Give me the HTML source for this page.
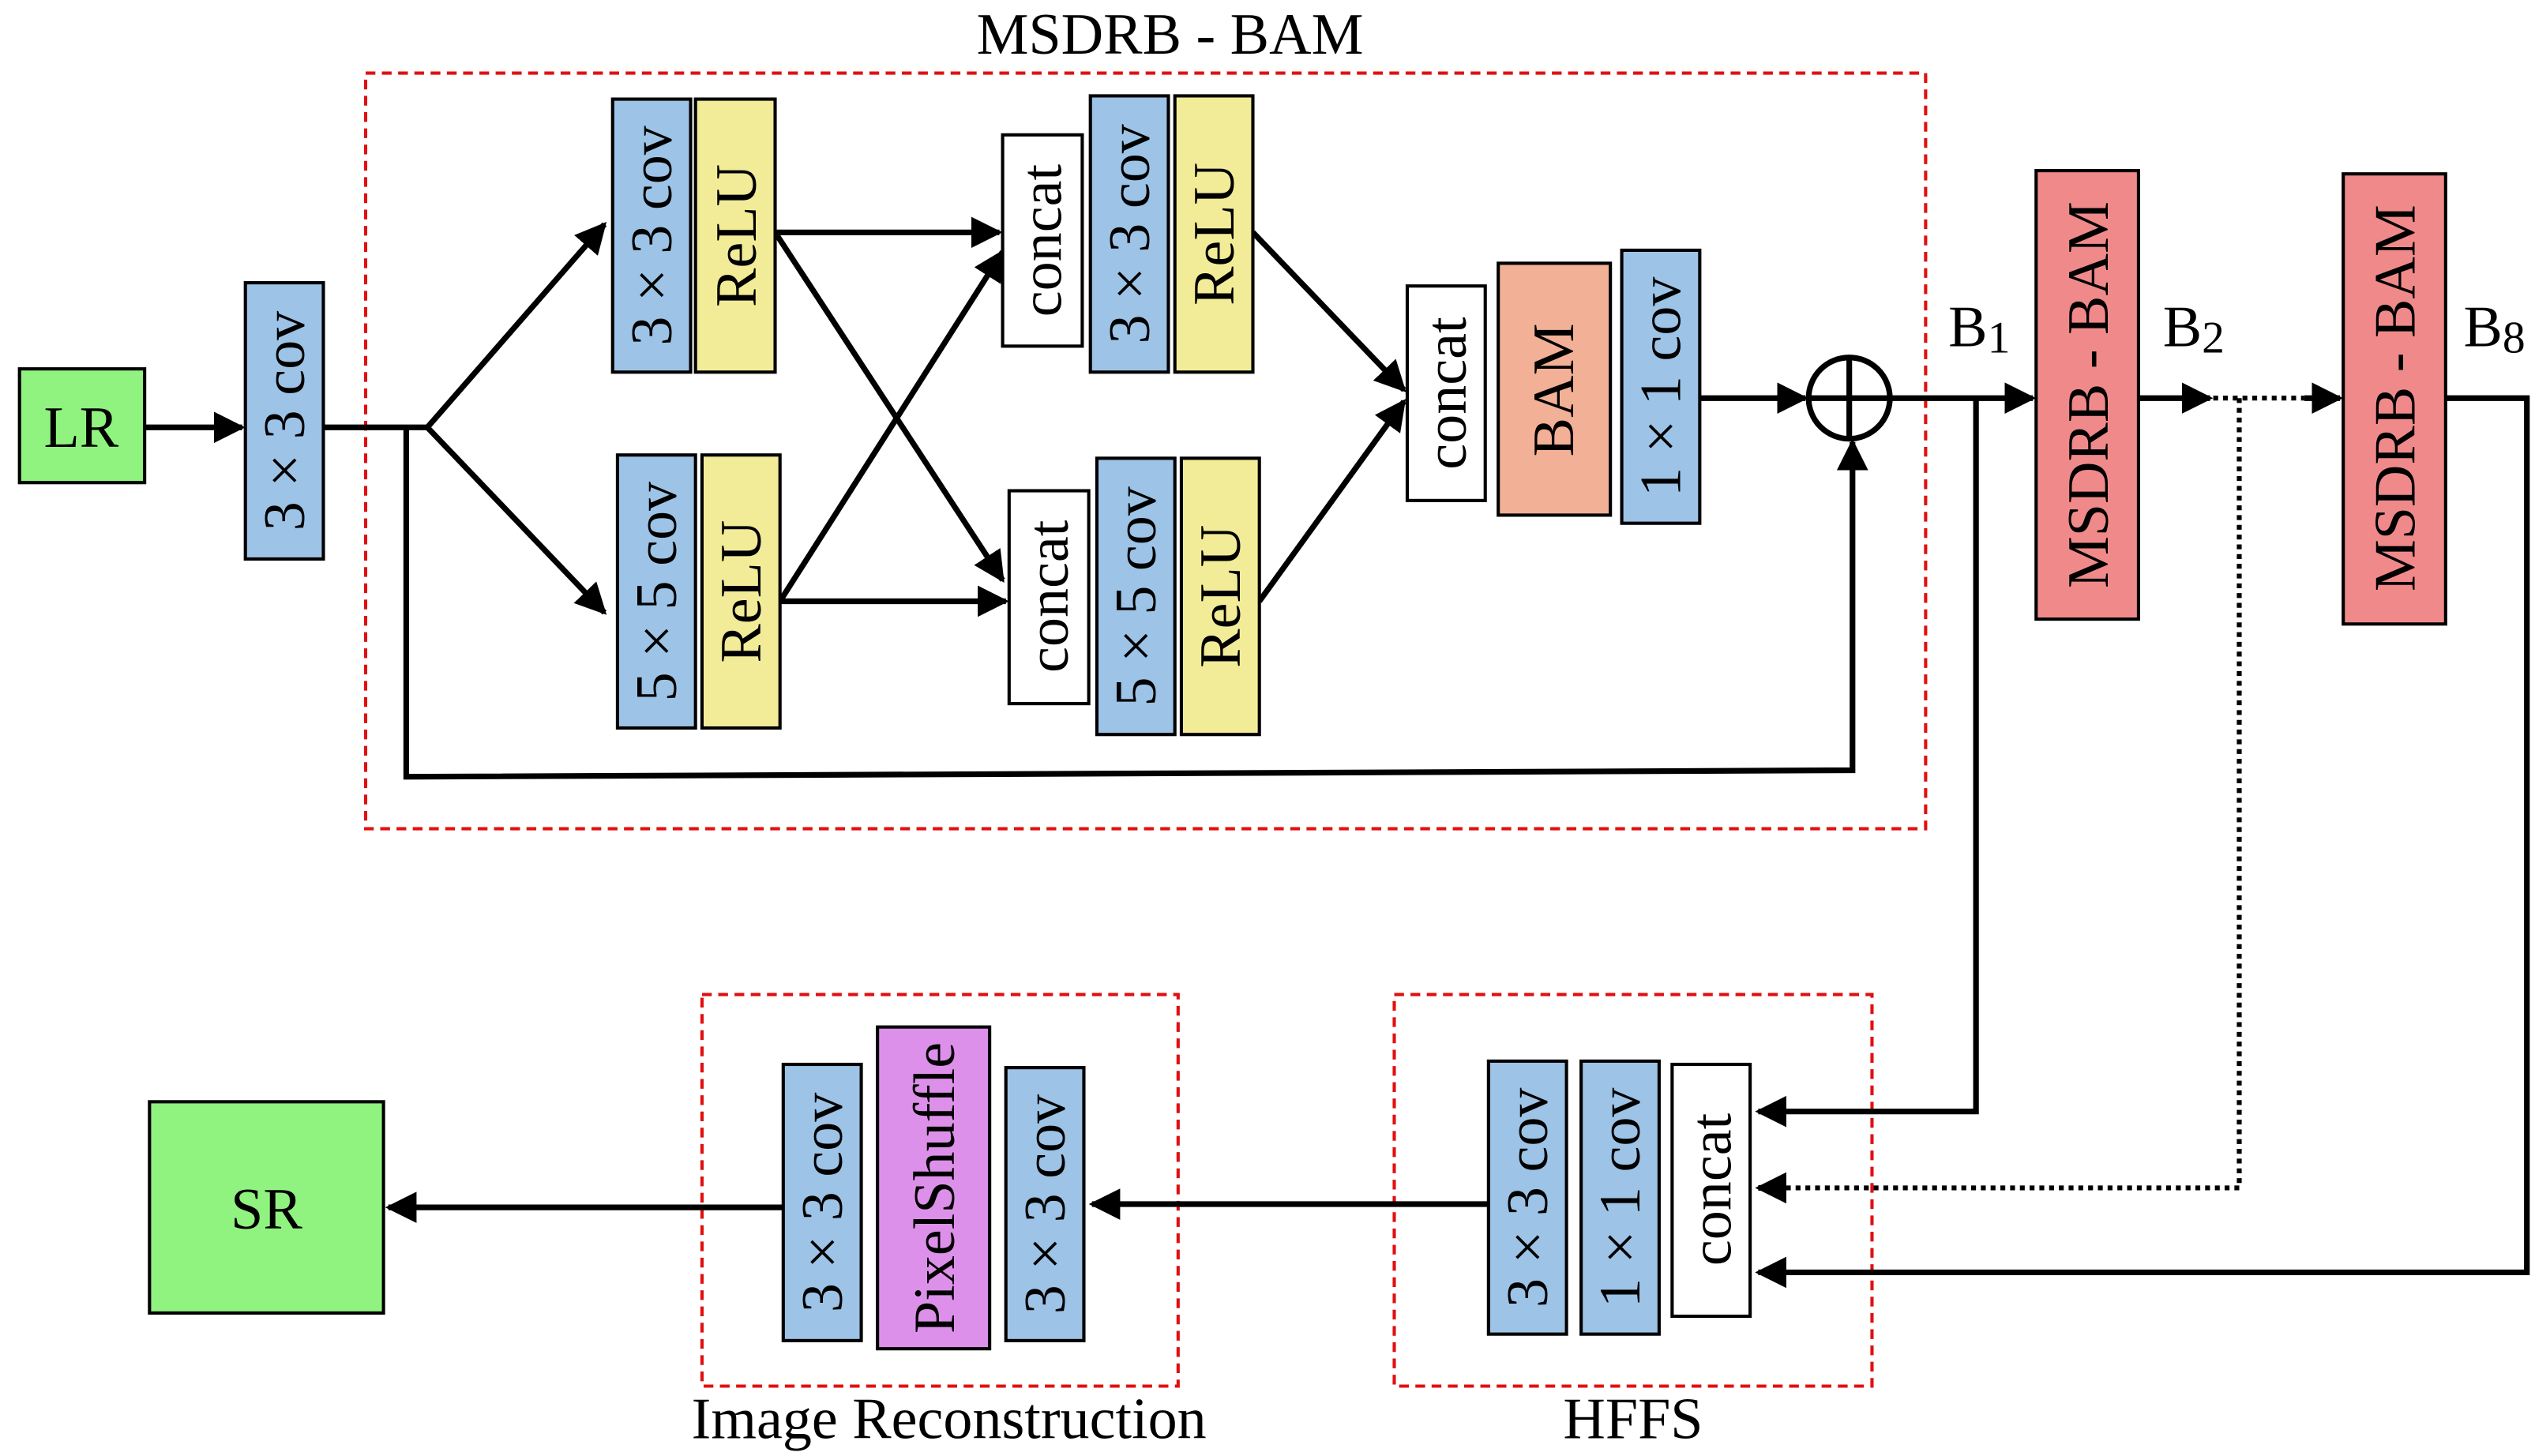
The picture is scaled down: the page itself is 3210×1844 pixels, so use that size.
<!DOCTYPE html>
<html><head><meta charset="utf-8"><style>html,body{margin:0;padding:0;background:#fff}svg{display:block}</style></head>
<body>
<svg width="3210" height="1844" viewBox="0 0 1560 896" preserveAspectRatio="none" xmlns="http://www.w3.org/2000/svg" font-family="'Liberation Serif', serif" font-size="36">
<defs>
<marker id="a" viewBox="0 0 10 10" refX="9" refY="5" markerWidth="5.5" markerHeight="5.5" orient="auto-start-reverse" markerUnits="strokeWidth"><path d="M0,0 L10,5 L0,10 z" fill="#000"/></marker>
</defs>
<g stroke="#e01010" stroke-width="2" stroke-dasharray="6,4" fill="none">
<rect x="225" y="45" width="960" height="465"/>
<rect x="858" y="612" width="294" height="241"/>
<rect x="432" y="612" width="293" height="241"/>
</g>
<text x="720" y="33" text-anchor="middle">MSDRB - BAM</text>
<text x="1005" y="885" text-anchor="middle">HFFS</text>
<text x="584" y="885" text-anchor="middle">Image Reconstruction</text>
<text x="1218" y="213" text-anchor="middle">B<tspan font-size="28" dy="4">1</tspan></text>
<text x="1350" y="213" text-anchor="middle">B<tspan font-size="28" dy="4">2</tspan></text>
<text x="1535" y="213" text-anchor="middle">B<tspan font-size="28" dy="4">8</tspan></text>

<g stroke="#000" stroke-width="3.5" fill="none">
<line x1="89" y1="263" x2="149" y2="263" marker-end="url(#a)"/>
<polyline points="199,263 263,263"/>
<line x1="263" y1="263" x2="372" y2="138" marker-end="url(#a)"/>
<line x1="263" y1="263" x2="372" y2="377" marker-end="url(#a)"/>
<polyline points="250,263 250,478 1140,474 1140,272" marker-end="url(#a)"/>
<line x1="477" y1="143" x2="615" y2="143" marker-end="url(#a)"/>
<line x1="477" y1="143" x2="617" y2="357" marker-end="url(#a)"/>
<line x1="480" y1="370" x2="617" y2="155" marker-end="url(#a)"/>
<line x1="480" y1="370" x2="619" y2="370" marker-end="url(#a)"/>
<line x1="771" y1="143" x2="864" y2="240" marker-end="url(#a)"/>
<line x1="775" y1="370" x2="864" y2="247" marker-end="url(#a)"/>
<line x1="1046" y1="245" x2="1111" y2="245" marker-end="url(#a)"/>
<circle cx="1138" cy="245" r="25"/>
<line x1="1113" y1="245" x2="1163" y2="245"/>
<line x1="1138" y1="220" x2="1138" y2="270"/>
<line x1="1163" y1="245" x2="1251" y2="245" marker-end="url(#a)"/>
<polyline points="1216,245 1216,684 1082,684" marker-end="url(#a)"/>
<line x1="1316" y1="245" x2="1360" y2="245" marker-end="url(#a)"/>
<line x1="1418" y1="245" x2="1440" y2="245" marker-end="url(#a)"/>
<polyline points="1505,245 1555,245 1555,783 1082,783" marker-end="url(#a)"/>
<line x1="916" y1="741" x2="672" y2="741" marker-end="url(#a)"/>
<line x1="482" y1="743" x2="239" y2="743" marker-end="url(#a)"/>
</g>
<g stroke="#000" stroke-width="3" fill="none" stroke-dasharray="3,3">
<line x1="1362" y1="245" x2="1418" y2="245"/>
<polyline points="1378,245 1378,731 1096,731"/>
</g>
<line x1="1096" y1="731" x2="1082" y2="731" stroke="#000" stroke-width="3.5" marker-end="url(#a)"/>

<g stroke="#000" stroke-width="2">
<rect x="12" y="227" width="77" height="70" fill="#90f27f"/>
<rect x="92" y="678" width="144" height="130" fill="#90f27f"/>
<rect x="151" y="174" width="48" height="170" fill="#9dc3e6"/>
<rect x="377" y="61" width="48" height="168" fill="#9dc3e6"/>
<rect x="428" y="61" width="49" height="168" fill="#f2ec98"/>
<rect x="380" y="280" width="48" height="168" fill="#9dc3e6"/>
<rect x="432" y="280" width="48" height="168" fill="#f2ec98"/>
<rect x="617" y="83" width="49" height="130" fill="#fff"/>
<rect x="671" y="59" width="48" height="170" fill="#9dc3e6"/>
<rect x="723" y="59" width="48" height="170" fill="#f2ec98"/>
<rect x="621" y="302" width="49" height="131" fill="#fff"/>
<rect x="675" y="282" width="48" height="170" fill="#9dc3e6"/>
<rect x="727" y="282" width="48" height="170" fill="#f2ec98"/>
<rect x="866" y="176" width="48" height="132" fill="#fff"/>
<rect x="922" y="162" width="69" height="155" fill="#f2b096"/>
<rect x="998" y="154" width="48" height="168" fill="#9dc3e6"/>
<rect x="1253" y="105" width="63" height="276" fill="#f08a8a"/>
<rect x="1442" y="107" width="63" height="277" fill="#f08a8a"/>
<rect x="916" y="653" width="48" height="168" fill="#9dc3e6"/>
<rect x="973" y="653" width="48" height="168" fill="#9dc3e6"/>
<rect x="1029" y="655" width="48" height="155" fill="#fff"/>
<rect x="482" y="655" width="48" height="170" fill="#9dc3e6"/>
<rect x="540" y="632" width="69" height="198" fill="#dd90ea"/>
<rect x="619" y="657" width="48" height="168" fill="#9dc3e6"/>
</g>
<text x="50" y="275" text-anchor="middle">LR</text>
<text x="164" y="756" text-anchor="middle">SR</text>
<g text-anchor="middle">
<text transform="translate(187,259) rotate(-90)">3 × 3 cov</text>
<text transform="translate(413,145) rotate(-90)">3 × 3 cov</text>
<text transform="translate(465,145) rotate(-90)">ReLU</text>
<text transform="translate(416,364) rotate(-90)">5 × 5 cov</text>
<text transform="translate(468,364) rotate(-90)">ReLU</text>
<text transform="translate(653,148) rotate(-90)">concat</text>
<text transform="translate(707,144) rotate(-90)">3 × 3 cov</text>
<text transform="translate(759,144) rotate(-90)">ReLU</text>
<text transform="translate(657,367) rotate(-90)">concat</text>
<text transform="translate(711,367) rotate(-90)">5 × 5 cov</text>
<text transform="translate(763,367) rotate(-90)">ReLU</text>
<text transform="translate(902,242) rotate(-90)">concat</text>
<text transform="translate(968,240) rotate(-90)">BAM</text>
<text transform="translate(1034,238) rotate(-90)">1 × 1 cov</text>
<text transform="translate(1297,243) rotate(-90)">MSDRB - BAM</text>
<text transform="translate(1486,245) rotate(-90)">MSDRB - BAM</text>
<text transform="translate(952,737) rotate(-90)">3 × 3 cov</text>
<text transform="translate(1009,737) rotate(-90)">1 × 1 cov</text>
<text transform="translate(1065,732) rotate(-90)">concat</text>
<text transform="translate(518,740) rotate(-90)">3 × 3 cov</text>
<text transform="translate(587,731) rotate(-90)">PixelShuffle</text>
<text transform="translate(655,741) rotate(-90)">3 × 3 cov</text>
</g>
</svg>
</body></html>
